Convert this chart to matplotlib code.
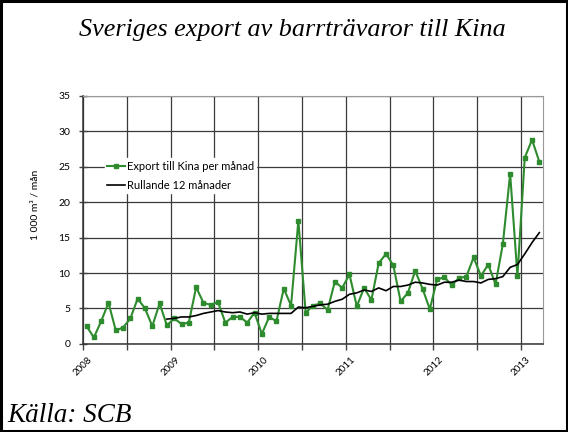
import numpy as np
import matplotlib
matplotlib.use('Agg')
import matplotlib.pyplot as plt
from matplotlib.patches import Rectangle

# DATA (1 000 m3 per month, Jan 2008 - Mar 2013)
ar = ['2008', '2009', '2010', '2011', '2012', '2013']
export_kina = [
    2.5, 0.9, 3.2, 5.8, 1.9, 2.3, 3.6, 6.4, 5.0, 2.5, 5.7, 2.6,       # 2008
    3.6, 2.8, 3.0, 8.0, 5.8, 5.5, 5.9, 3.0, 3.8, 3.8, 3.0, 4.4,       # 2009
    1.4, 3.8, 3.2, 7.8, 5.4, 17.4, 4.4, 5.4, 5.7, 4.8, 8.8, 7.9,      # 2010
    9.8, 5.3, 7.9, 6.2, 11.4, 12.7, 11.1, 6.0, 7.2, 10.3, 7.8, 4.9,   # 2011
    9.1, 9.4, 8.3, 9.3, 9.5, 12.2, 9.6, 11.2, 8.4, 14.1, 24.0, 9.6,   # 2012
    26.3, 28.8, 25.7,                                                 # 2013
]
rullande_12 = [
    None, None, None, None, None, None, None, None, None, None, None, 3.5,
    3.6, 3.8, 3.8, 4.0, 4.3, 4.5, 4.7, 4.5, 4.4, 4.5, 4.2, 4.4,
    4.2, 4.3, 4.3, 4.3, 4.3, 5.2, 5.1, 5.3, 5.5, 5.6, 6.0, 6.3,
    7.0, 7.2, 7.6, 7.4, 7.9, 7.5, 8.1, 8.1, 8.3, 8.7, 8.6, 8.4,
    8.3, 8.7, 8.7, 9.0, 8.8, 8.8, 8.6, 9.1, 9.2, 9.5, 10.8, 11.2,
    12.7, 14.3, 15.7,
]

grön = '#2e8b2e'
fnt = 'Lato'

fig = plt.figure(figsize=(5.68, 4.32), dpi=100)
fig.patches.append(Rectangle((0.002, 0.002), 0.996, 0.996, transform=fig.transFigure,
                             fill=False, edgecolor='black', linewidth=2.2))

ax = fig.add_axes([0.146, 0.204, 0.810, 0.574])

x = np.arange(len(export_kina)) + 0.5
rull = np.array([np.nan if v is None else v for v in rullande_12])

ax.plot(x, export_kina, color=grön, lw=1.5, marker='s', ms=3,
        label='Export till Kina per månad', zorder=3)
ax.plot(x, rull, color='black', lw=1.2, label='Rullande 12 månader', zorder=4)

ax.set_xlim(0, len(export_kina))
ax.set_ylim(0, 35)
ax.set_yticks(np.arange(0, 36, 5))
ax.set_xticks(np.arange(0, len(export_kina), 12))
ax.set_xticklabels(ar, rotation=45, fontsize=7, family=fnt)
ax.set_xticks(np.arange(6, len(export_kina), 12), minor=True)
for lab in ax.get_yticklabels():
    lab.set_fontsize(7.5)
    lab.set_family(fnt)

ax.grid(True, which='both', color='#3a3a3a', lw=0.9)
ax.set_axisbelow(True)
ax.tick_params(axis='y', direction='inout', length=6, width=1, color='#444444', pad=6)
ax.tick_params(axis='x', which='both', direction='out', length=4, width=1,
               color='#444444', pad=4)

for s in ['top', 'right']:
    ax.spines[s].set_color('#999999')
for s in ['left', 'bottom']:
    ax.spines[s].set_color('#333333')
    ax.spines[s].set_linewidth(1.1)

ax.set_ylabel('1 000 m³ / mån', fontsize=7.5, family=fnt)
ax.yaxis.set_label_coords(-0.095, 0.56)

leg = ax.legend(loc='upper left', bbox_to_anchor=(0.035, 0.77), frameon=True,
                fancybox=False, edgecolor='white', framealpha=1,
                prop={'family': fnt, 'size': 8}, handlelength=1.6,
                handletextpad=0.2, labelspacing=0.75, borderpad=0.2)

fig.text(0.515, 0.93, 'Sveriges export av barrträvaror till Kina', ha='center', va='center',
         fontsize=18.8, style='italic', family='Liberation Serif')
fig.text(0.013, 0.038, 'Källa: SCB', ha='left', va='center',
         fontsize=19.5, style='italic', family='Liberation Serif')

fig.savefig('out.png', dpi=100)
